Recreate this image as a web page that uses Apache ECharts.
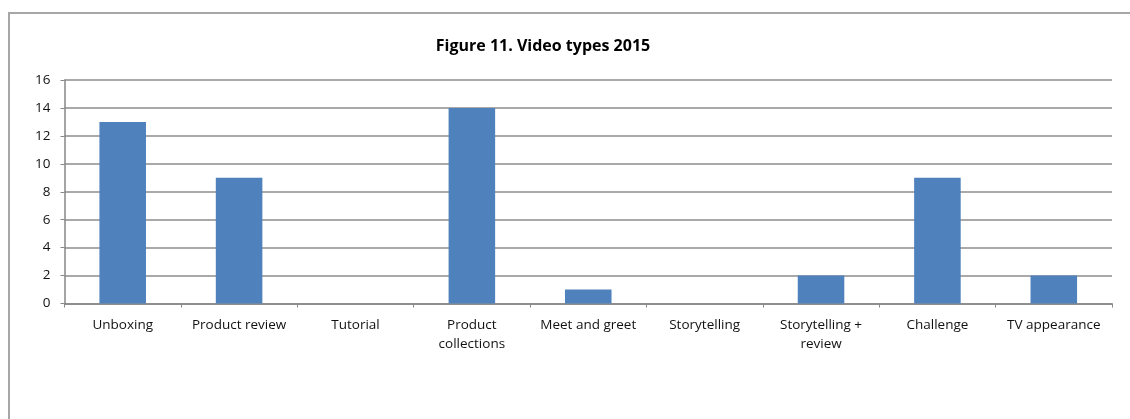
<!DOCTYPE html>
<html>
<head>
<meta charset="utf-8">
<script src="https://cdn.jsdelivr.net/npm/echarts@6/dist/echarts.min.js"></script>
<style>
  html, body { margin: 0; padding: 0; background: #fff; }
  #frame { position: absolute; left: 8px; top: 12px; width: 1122px; height: 407px; border-top: 2px solid #a6a6a6; border-left: 2px solid #a6a6a6; box-sizing: border-box; }
  #chart { position: absolute; left: 0; top: 0; width: 1130px; height: 419px; }
</style>
</head>
<body>
<div id="frame"></div>
<div id="chart"></div>
<script>
const titleText = 'Figure 11. Video types 2015';
const categories = ['Unboxing', 'Product review', 'Tutorial', 'Product\ncollections', 'Meet and greet', 'Storytelling', 'Storytelling +\nreview', 'Challenge', 'TV appearance'];
const counts = [13, 9, 0, 14, 1, 0, 2, 9, 2];
const yMin = 0, yMax = 16, yStep = 2;

const chart = echarts.init(document.getElementById('chart'), null, { renderer: 'canvas' });
const font = '"Open Sans", "Liberation Sans", sans-serif';
chart.setOption({
  animation: false,
  title: {
    text: titleText,
    left: 538, top: 33, textAlign: 'center',
    textStyle: { fontFamily: font, fontSize: 16, fontWeight: 'bold', color: '#000' }
  },
  grid: { left: 64.5, right: 18, top: 80, bottom: 115.5 },
  xAxis: {
    type: 'category',
    data: categories,
    axisLine: { lineStyle: { color: '#878787', width: 1.5 } },
    axisTick: { show: true, length: 4, lineStyle: { color: '#878787' } },
    axisLabel: { fontFamily: font, fontSize: 13.5, color: '#111', margin: 12, lineHeight: 19, interval: 0 }
  },
  yAxis: {
    type: 'value', min: yMin, max: yMax, interval: yStep,
    axisLine: { show: true, lineStyle: { color: '#878787', width: 1.5 } },
    axisTick: { show: true, length: 4, lineStyle: { color: '#878787' } },
    splitLine: { lineStyle: { color: '#8c8c8c', width: 1.5 } },
    axisLabel: { fontFamily: font, fontSize: 13.5, color: '#111', margin: 14 }
  },
  series: [{
    type: 'bar',
    data: counts,
    barWidth: '40%',
    itemStyle: { color: '#4f81bd' }
  }]
});
</script>
</body>
</html>
